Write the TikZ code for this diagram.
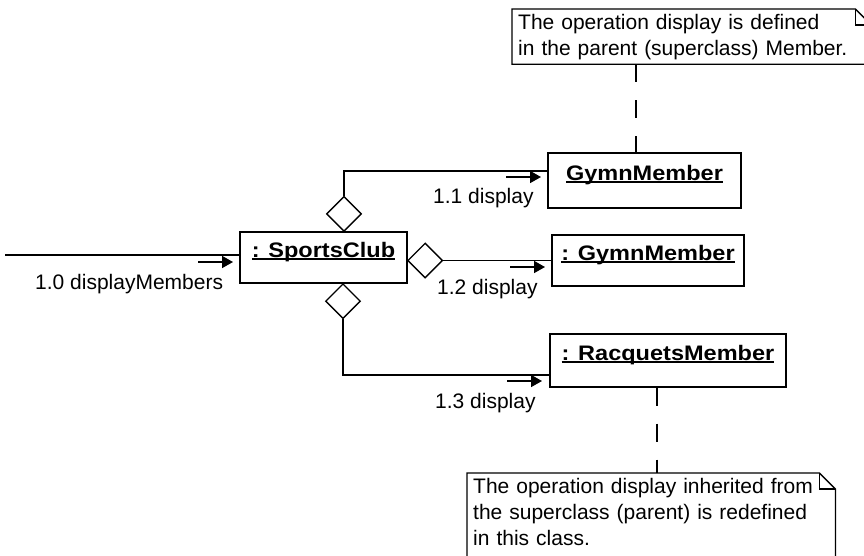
\documentclass[tikz,border=0pt]{standalone}
\usepackage{fontspec}
\setmainfont{Liberation Sans}
\newfontfamily\objfont[FakeStretch=1.12]{Liberation Sans}
\usetikzlibrary{shapes.geometric,arrows.meta}

\newcommand{\objname}[1]{\setbox0\hbox{\objfont\bfseries #1}\rlap{\rule[-2pt]{\wd0}{1.3pt}}\box0}

\begin{document}
\begin{tikzpicture}[x=1pt,y=-1pt,
  every node/.style={font=\fontsize{21}{26}\selectfont},
  obj/.style={draw,line width=1.3pt,inner sep=0pt,text height=15pt,text depth=15pt},
  agg/.style={draw,diamond,aspect=1,line width=1.3pt,inner sep=0pt,minimum size=35pt},
  lbl/.style={anchor=base west,inner sep=0pt},
  note/.style={anchor=north west,align=left,inner xsep=6pt,inner ysep=4.6pt},
  link/.style={line width=1.3pt},
  msg/.style={line width=1.6pt,-{Triangle[length=11pt,width=12pt]}},
  anchorline/.style={line width=1.3pt,dash pattern=on 18pt off 18pt}]
  \useasboundingbox (0,0) rectangle (864,555);
  \clip (0,0) rectangle (864,555);

  % Objetos
  \node[obj,minimum width=167pt,minimum height=51pt] (club) at (323.5,257.5) {\objname{: SportsClub}};
  \node[obj,minimum width=193pt,minimum height=55pt] (gymA) at (644.5,180.5) {\objname{GymnMember}};
  \node[obj,minimum width=192pt,minimum height=51pt] (gymB) at (648,260.5) {\objname{: GymnMember}};
  \node[obj,minimum width=236pt,minimum height=53pt] (racq) at (668,360.5) {\objname{: RacquetsMember}};

  % Rombos de agregación
  \node[agg,anchor=south] (aggA) at (344,232) {};
  \node[agg,anchor=west] (aggB) at (407,260.5) {};
  \node[agg,anchor=north] (aggC) at (343,283) {};

  % Enlaces
  \draw[link] (aggA.north) |- ([yshift=9.5pt]gymA.west);
  \draw[link] (aggB.east) -- (gymB.west);
  \draw[link] (aggC.south) |- ([yshift=-14.5pt]racq.west);
  \coordinate (src) at (5,255);
  \draw[link] (src) -- (src -| club.west);

  % Mensajes
  \foreach \n/\x/\y in {m0/198/262, m1/506/177, m2/510/267, m3/507/381}
    \coordinate (\n) at (\x,\y);
  \foreach \n in {m0,m1,m2,m3}
    \draw[msg] (\n) -- ++(35,0);

  \node[lbl] (l0) at (35,289) {1.0 displayMembers};
  \node[lbl] (l1) at (433,203) {1.1 display};
  \node[lbl] (l2) at (437,294) {1.2 display};
  \node[lbl] (l3) at (435,408) {1.3 display};

  % Notas
  \node[note,text width=347pt] (noteA) at (512,9) {The operation display is defined\\in the parent (superclass) Member.};
  \node[note,text width=356pt] (noteB) at (467,473) {The operation display inherited from\\the superclass (parent) is redefined\\in this class.};
  \foreach \n/\d in {noteA/0,noteB/60} {
    \draw[link] (\n.north west) -- ([xshift=-16pt]\n.north east) -- ([yshift=-16pt]\n.north east) -- ([yshift=-\d pt]\n.south east) -- ([yshift=-\d pt]\n.south west) -- cycle;
    \draw[link] ([xshift=-16pt]\n.north east) |- ([yshift=-16pt]\n.north east);
  }

  % Anclas de las notas
  \draw[anchorline] (noteA.south -| 636,0) -- (gymA.north -| 636,0);
  \draw[anchorline] (racq.south -| 657,0) -- (noteB.north -| 657,0);
\end{tikzpicture}
\end{document}
